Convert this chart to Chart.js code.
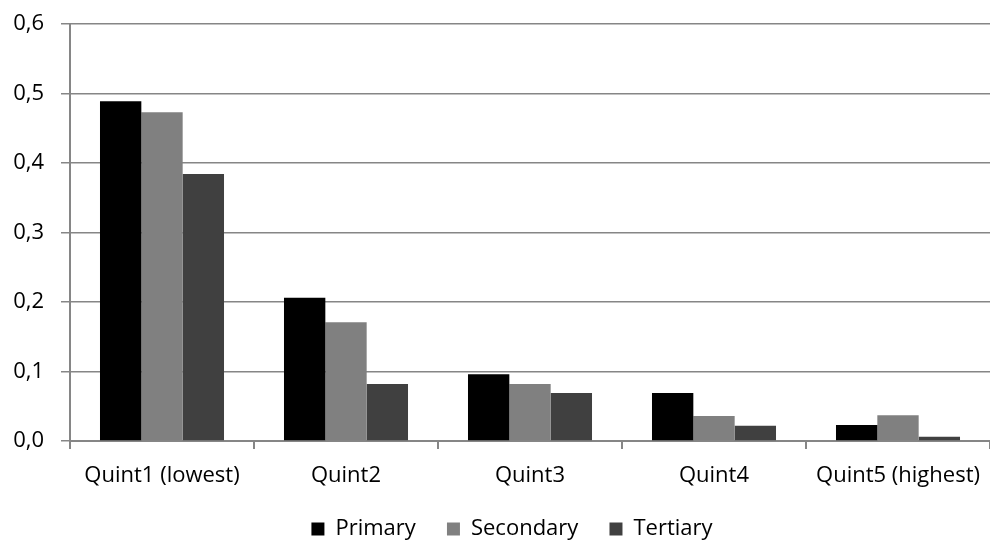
<!DOCTYPE html>
<html><head><meta charset="utf-8">
<script src="https://cdn.jsdelivr.net/npm/chart.js@4/dist/chart.umd.min.js"></script>
<style>html,body{margin:0;padding:0;background:#fff}#wrap{width:990px;height:541px}</style>
</head><body><div id="wrap"><canvas id="c" width="990" height="541"></canvas></div>
<script>
const categories = ["Quint1 (lowest)", "Quint2", "Quint3", "Quint4", "Quint5 (highest)"];
const primary = [0.489, 0.206, 0.096, 0.069, 0.023];
const secondary = [0.473, 0.171, 0.082, 0.036, 0.037];
const tertiary = [0.384, 0.082, 0.069, 0.022, 0.006];
const seriesNames = ["Primary", "Secondary", "Tertiary"];
const colors = ["#000000", "#808080", "#404040"];
const FONT = "'Open Sans', sans-serif";

const legendShift = {
  id: 'legendShift',
  afterLayout(chart) {
    const lg = chart.legend;
    if (!lg) return;
    lg.top += 9; lg.bottom += 9;
    lg.left += 17; lg.right += 17;
  }
};

new Chart(document.getElementById('c'), {
  type: 'bar',
  data: {
    labels: categories,
    datasets: [primary, secondary, tertiary].map((d, i) => ({
      label: seriesNames[i], data: d, backgroundColor: colors[i],
      borderWidth: 0, categoryPercentage: 0.674, barPercentage: 1
    }))
  },
  plugins: [legendShift],
  options: {
    responsive: false, animation: false,
    layout: {padding: {top: 24, left: 0, right: 0, bottom: 0}},
    plugins: {
      tooltip: {enabled: false},
      legend: {
        position: 'bottom',
        labels: {
          font: {family: FONT, size: 22}, color: '#000', boxWidth: 13, boxHeight: 13, padding: 14,
          generateLabels: chart => chart.data.datasets.map((ds, i) => ({
            text: ds.label + (i < chart.data.datasets.length - 1 ? '\u00a0\u00a0\u00a0' : ''),
            fillStyle: ds.backgroundColor, strokeStyle: ds.backgroundColor, lineWidth: 0,
            hidden: false, datasetIndex: i, fontColor: '#000'
          }))
        }
      }
    },
    scales: {
      x: {
        grid: {display: true, drawOnChartArea: false, drawTicks: true, tickLength: 8, color: '#868686', lineWidth: 2, offset: true},
        border: {color: '#868686', width: 2},
        ticks: {font: {family: FONT, size: 22}, color: '#000', padding: 14, maxRotation: 0, autoSkip: false},
        afterFit: s => { s.height = 54; s.paddingLeft = 0; s.paddingRight = 0; }
      },
      y: {
        min: 0, max: 0.6,
        grid: {color: '#868686', lineWidth: 1.5, tickLength: 9},
        border: {color: '#868686', width: 2},
        ticks: {stepSize: 0.1, font: {family: FONT, size: 22}, color: '#000', padding: 17,
          callback: v => v.toFixed(1).replace('.', ',')},
        afterFit: s => { s.width = 70; s.paddingTop = 0; s.paddingBottom = 0; }
      }
    }
  }
});
</script></body></html>
